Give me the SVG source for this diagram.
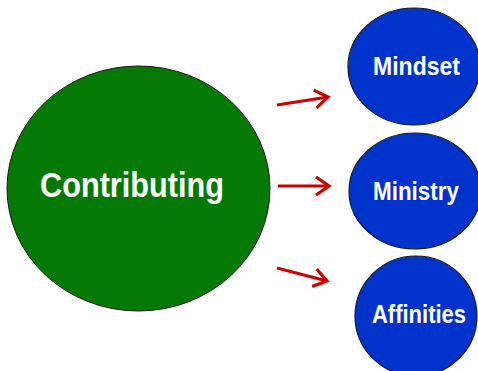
<svg xmlns="http://www.w3.org/2000/svg" width="478" height="371" viewBox="0 0 478 371">
<style>
.green{fill:#047A04;stroke:#1a1a1a;stroke-width:1}
.blue{fill:#0033CC;stroke:#1a1a1a;stroke-width:1.2}
.lbl{font-family:"Liberation Sans",Arial,sans-serif;font-weight:bold;fill:#ffffff;text-anchor:middle}
.conn{stroke:#CC0000;stroke-width:3;fill:none}
</style>
<defs>
<marker id="ah" markerUnits="userSpaceOnUse" markerWidth="26" markerHeight="26" viewBox="-17 -13 26 26" refX="0" refY="0" orient="auto">
<path d="M-13,-9 L0,0 L-13,9" fill="none" stroke="#CC0000" stroke-width="3.2" stroke-linejoin="miter"/>
</marker>
</defs>
<rect width="478" height="371" fill="#ffffff"/>
<g id="contributing">
<ellipse class="green" cx="138.5" cy="188.5" rx="131.5" ry="122.5"/>
<text class="lbl" x="132" y="197" font-size="35" textLength="184" lengthAdjust="spacingAndGlyphs">Contributing</text>
</g>
<g id="mindset">
<ellipse class="blue" cx="414" cy="66.5" rx="66" ry="58.5"/>
<text class="lbl" x="416.5" y="75" font-size="25" textLength="87" lengthAdjust="spacingAndGlyphs">Mindset</text>
</g>
<g id="ministry">
<ellipse class="blue" cx="415" cy="191" rx="66" ry="58"/>
<text class="lbl" x="416" y="200" font-size="26" textLength="86" lengthAdjust="spacingAndGlyphs">Ministry</text>
</g>
<g id="affinities">
<ellipse class="blue" cx="416" cy="316" rx="61" ry="60"/>
<text class="lbl" x="419" y="323" font-size="26" textLength="94" lengthAdjust="spacingAndGlyphs">Affinities</text>
</g>
<g id="connectors">
<path class="conn" d="M277,105 L328,97" marker-end="url(#ah)"/>
<path class="conn" d="M278,186 L329,186" marker-end="url(#ah)"/>
<path class="conn" d="M277,268 L327,281" marker-end="url(#ah)"/>
</g>
</svg>
